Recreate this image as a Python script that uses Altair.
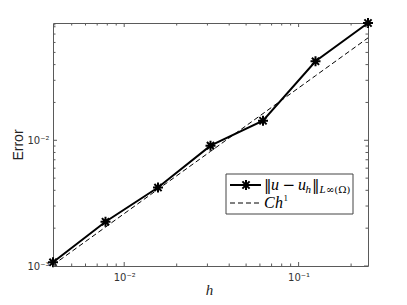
import altair as alt
import pandas as pd

# data
h_vals = [1/256, 1/128, 1/64, 1/32, 1/16, 1/8, 1/4]
err_vals = [0.00107, 0.00225, 0.00421, 0.00906, 0.0143, 0.0425, 0.0857]
C = 0.261
ref_vals = [C * h for h in h_vals]

x_major = [0.01, 0.1]
x_minor = [0.004, 0.005, 0.006, 0.007, 0.008, 0.009, 0.02, 0.03, 0.04, 0.05,
           0.06, 0.07, 0.08, 0.09, 0.2]
y_major = [0.001, 0.01]
y_minor = [0.002, 0.003, 0.004, 0.005, 0.006, 0.007, 0.008, 0.009, 0.02, 0.03,
           0.04, 0.05, 0.06, 0.07, 0.08]

XDOM = [1/256, 1/4]
YDOM = [0.001, 0.0857]
W, H = 315, 243
AX = "#5a5a5a"

df = pd.DataFrame({"h": h_vals, "err": err_vals, "ref": ref_vals})

xs = alt.Scale(type="log", domain=XDOM, nice=False)
ys = alt.Scale(type="log", domain=YDOM, nice=False)

sup = "datum.value < 0.005 ? '10⁻³' : (datum.value < 0.05 ? '10⁻²' : '10⁻¹')"

base = alt.Chart(df)

ref_line = base.mark_line(color="black", strokeWidth=1, strokeDash=[5, 3], clip=False).encode(
    x=alt.X("h:Q", scale=xs,
            axis=alt.Axis(values=x_major, labelExpr=sup, ticks=False, domain=False, grid=False,
                          labelFont="DejaVu Sans", labelFontSize=10, labelColor="#333",
                          labelPadding=6, title="h", titleFont="Liberation Serif",
                          titleFontStyle="italic", titleFontWeight="normal", titleFontSize=15,
                          titleColor="#222", titleX=156, titleY=23, titleBaseline="middle")),
    y=alt.Y("ref:Q", scale=ys,
            axis=alt.Axis(values=y_major, labelExpr=sup, ticks=False, domain=False, grid=False,
                          labelFont="DejaVu Sans", labelFontSize=10, labelColor="#333",
                          labelPadding=4, title="Error", titleFont="Liberation Sans",
                          titleFontWeight="normal", titleFontSize=14, titleColor="#222",
                          titleX=-35, titleY=H / 2, titleBaseline="middle")),
)

err_line = base.mark_line(color="black", strokeWidth=2, clip=False).encode(
    x=alt.X("h:Q", scale=xs), y=alt.Y("err:Q", scale=ys))

star = "M-1,0L1,0M0,-1L0,1M-0.72,-0.72L0.72,0.72M-0.72,0.72L0.72,-0.72"
err_pts = base.mark_point(shape=star, size=100, filled=False, stroke="black",
                          strokeWidth=2, opacity=1, clip=False).encode(
    x=alt.X("h:Q", scale=xs), y=alt.Y("err:Q", scale=ys))

# inward ticks
def xticks(vals, length):
    d = alt.Chart(pd.DataFrame({"v": vals}))
    b = d.mark_rule(color=AX, strokeWidth=1).encode(
        x=alt.X("v:Q", scale=xs), y=alt.value(H), y2=alt.value(H - length))
    t = d.mark_rule(color=AX, strokeWidth=1).encode(
        x=alt.X("v:Q", scale=xs), y=alt.value(0), y2=alt.value(length))
    return [b, t]

def yticks(vals, length):
    d = alt.Chart(pd.DataFrame({"v": vals}))
    l = d.mark_rule(color=AX, strokeWidth=1).encode(
        y=alt.Y("v:Q", scale=ys), x=alt.value(0), x2=alt.value(length))
    r = d.mark_rule(color=AX, strokeWidth=1).encode(
        y=alt.Y("v:Q", scale=ys), x=alt.value(W), x2=alt.value(W - length))
    return [l, r]

ticks = xticks(x_major, 4) + xticks(x_minor, 2.5) + yticks(y_major, 4) + yticks(y_minor, 2.5)

# legend (manual)
one = alt.Chart(pd.DataFrame({"a": [0]}))
LX0, LY0, LX1, LY1 = 173, 151, 300, 191
leg_box = one.mark_rect(fill="white", stroke="#444", strokeWidth=1).encode(
    x=alt.value(LX0), x2=alt.value(LX1), y=alt.value(LY0), y2=alt.value(LY1))
leg_l1 = one.mark_rule(color="black", strokeWidth=2).encode(
    x=alt.value(177), x2=alt.value(208), y=alt.value(162))
leg_p1 = one.mark_point(shape=star, size=100, filled=False, stroke="black",
                        strokeWidth=2, opacity=1).encode(
    x=alt.value(193), y=alt.value(162))
leg_l2 = one.mark_rule(color="black", strokeWidth=1, strokeDash=[5, 3]).encode(
    x=alt.value(177), x2=alt.value(207), y=alt.value(180))

def txt(s, x, y, size, style="normal", font="DejaVu Serif"):
    return one.mark_text(text=s, align="left", baseline="alphabetic", font=font,
                         fontSize=size, fontStyle=style, color="black").encode(
        x=alt.value(x), y=alt.value(y))

by1 = 166.5
texts = [
    txt("‖", 211, by1, 15),
    txt("u", 218, by1, 16, "italic", "Liberation Serif"),
    txt("−", 229.5, by1, 15),
    txt("u", 245, by1, 16, "italic", "Liberation Serif"),
    txt("h", 252.5, by1 + 3, 11, "italic", "Liberation Serif"),
    txt("‖", 259, by1, 15),
    txt("L", 266.5, by1 + 3.5, 11, "italic", "Liberation Serif"),
    txt("∞(Ω)", 273, by1 + 3.5, 10),
    txt("C", 211, 184.5, 16, "italic", "Liberation Serif"),
    txt("h", 222, 184.5, 16, "italic", "Liberation Serif"),
    txt("1", 230.5, 178, 9, "normal", "Liberation Serif"),
]

chart = alt.layer(ref_line, err_line, err_pts, *ticks, leg_box, leg_l1, leg_p1, leg_l2, *texts).properties(
    width=W, height=H,
    autosize=alt.AutoSizeParams(type="none"),
    padding={"left": 45, "top": 15, "right": 31, "bottom": 31},
    background="white",
).configure_view(stroke=AX, strokeWidth=1)

chart.save("out.html", embed_options={"renderer": "svg", "actions": False})
